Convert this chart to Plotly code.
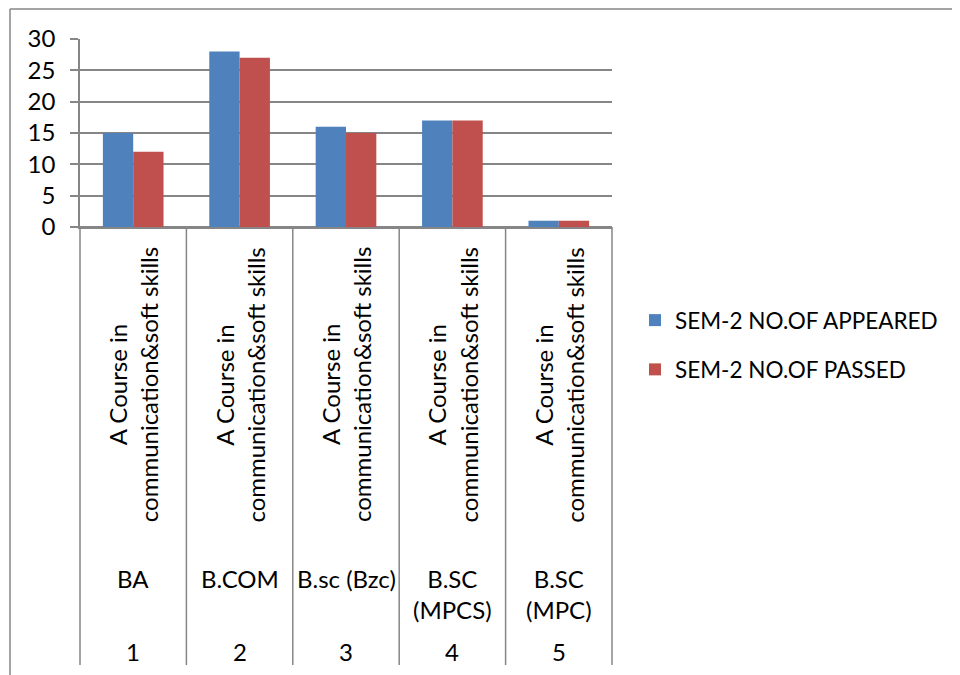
import plotly.graph_objects as go

categories = ["1", "2", "3", "4", "5"]
programs = ["BA", "B.COM", "B.sc (Bzc)", "B.SC<br>(MPCS)", "B.SC<br>(MPC)"]
course = ["A Course in<br>communication&soft skills"] * 5
appeared = [15, 28, 16, 17, 1]
passed = [12, 27, 15, 17, 1]
series_names = ["SEM-2 NO.OF APPEARED", "SEM-2 NO.OF PASSED"]
y_ticks = [0, 5, 10, 15, 20, 25, 30]

BLUE = "#4F81BD"
RED = "#C0504D"
GRAY = "#868686"
FONT = "Lato"
FS = 24
LFS = 22.5

fig = go.Figure()
fig.add_trace(go.Bar(x=categories, y=appeared, name=series_names[0],
                     marker=dict(color=BLUE, line=dict(width=0)), legendgroup="a"))
fig.add_trace(go.Bar(x=categories, y=passed, name=series_names[1],
                     marker=dict(color=RED, line=dict(width=0)), legendgroup="b"))

# plot area in screenshot pixels: x 80..612, y 39..227 (page has 8px body margin)
OFF = 8
FW, FH = 960 - OFF, 675 - OFF
L, R, T, B = 80, 612, 39, 227
W, H = R - L, B - T

def px_to_py(py):
    return (B - py) / H

def px_to_px(px):
    return (px - L) / W

shapes = []
n = len(categories)
for k in range(n + 1):
    shapes.append(dict(type="line", xref="paper", yref="paper",
                       x0=k / n, x1=k / n, y0=0, y1=px_to_py(665),
                       line=dict(color=GRAY, width=1.5)))
shapes.append(dict(type="line", xref="paper", yref="paper",
                   x0=px_to_px(10), x1=px_to_px(10), y0=px_to_py(9), y1=px_to_py(675),
                   line=dict(color=GRAY, width=1.5)))
shapes.append(dict(type="line", xref="paper", yref="paper",
                   x0=px_to_px(10), x1=px_to_px(960), y0=px_to_py(9), y1=px_to_py(9),
                   line=dict(color=GRAY, width=1.5)))

annotations = []
for i in range(n):
    annotations.append(dict(x=i, y=px_to_py(385), xref="x", yref="paper",
                            text=course[i], textangle=-90, showarrow=False,
                            font=dict(family=FONT, size=FS, color="black"),
                            xanchor="center", yanchor="middle"))
    annotations.append(dict(x=i, y=px_to_py(562), xref="x", yref="paper",
                            text=programs[i], showarrow=False,
                            font=dict(family=FONT, size=FS, color="black"),
                            xanchor="center", yanchor="top"))
    annotations.append(dict(x=i, y=px_to_py(651), xref="x", yref="paper",
                            text=categories[i], showarrow=False,
                            font=dict(family=FONT, size=FS, color="black"),
                            xanchor="center", yanchor="middle"))

fig.update_layout(
    width=FW, height=FH,
    margin=dict(l=L - OFF, r=FW - (R - OFF), t=T - OFF, b=FH - (B - OFF), pad=0),
    paper_bgcolor="white", plot_bgcolor="white",
    barmode="group", bargap=0.43, bargroupgap=0,
    font=dict(family=FONT, size=FS, color="black"),
    showlegend=True,
    legend=dict(x=px_to_px(635), y=px_to_py(345), xanchor="left", yanchor="middle",
                font=dict(family=FONT, size=LFS, color="black"),
                traceorder="grouped", tracegroupgap=17,
                bgcolor="rgba(0,0,0,0)", borderwidth=0),
    shapes=shapes,
    annotations=annotations,
)
fig.update_xaxes(type="category", showticklabels=False, showgrid=False,
                 showline=True, linecolor=GRAY, linewidth=1.5, ticks="", range=[-0.5, n - 0.5])
fig.update_yaxes(range=[0, 30], tickvals=y_ticks, showgrid=True, gridcolor=GRAY, gridwidth=1.5,
                 showline=True, linecolor=GRAY, linewidth=1.5, zeroline=True, zerolinecolor=GRAY,
                 zerolinewidth=1.5, ticks="outside", ticklen=8, tickcolor=GRAY, tickwidth=1.5,
                 ticklabelstandoff=10, tickfont=dict(family=FONT, size=FS, color="black"))

fig.write_html("out.html")
